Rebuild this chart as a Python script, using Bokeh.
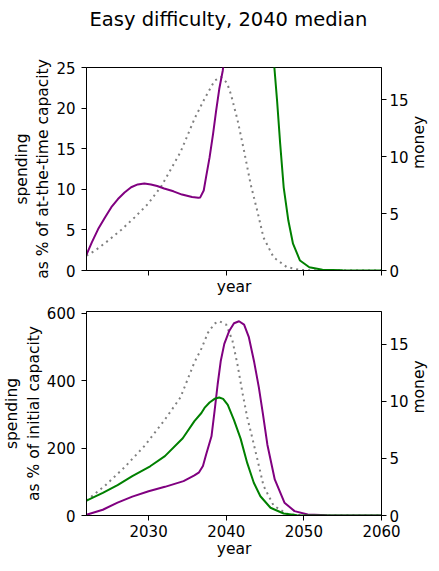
import math
from bokeh.plotting import figure
from bokeh.models import Range1d, LinearAxis, FixedTicker, Label
from bokeh.layouts import column
from bokeh.embed import file_html
from bokeh.resources import INLINE

TITLE = "Easy difficulty, 2040 median"

# ---- top panel: spending as % of at-the-time capacity ----
top_purple_x = [2022.0, 2022.7, 2023.5, 2024.4, 2025.2, 2026.05, 2026.9, 2027.75, 2028.6, 2029.45, 2030.3,
                2031.1, 2032.0, 2033.2, 2034.3, 2035.6, 2036.4, 2036.65, 2037.1, 2037.4, 2037.85, 2038.3,
                2038.7, 2039.1, 2039.55, 2040.0, 2040.5]
top_purple_y = [1.95, 3.5, 5.1, 6.55, 7.8, 8.8, 9.6, 10.25, 10.6, 10.7, 10.6,
                10.4, 10.1, 9.75, 9.35, 9.05, 8.95, 9.0, 9.85, 11.5, 13.9, 16.8,
                19.7, 22.35, 24.6, 28.0, 33.0]

top_green_x = [2045.0, 2045.6, 2046.2, 2046.55, 2046.95, 2047.4, 2048.0, 2048.6, 2049.5, 2050.7, 2052.4, 2055.0, 2060.0]
top_green_y = [60.0, 38.0, 25.0, 20.9, 15.6, 10.25, 6.15, 3.3, 1.23, 0.4, 0.1, 0.02, 0.0]

top_money_x = [2022.0, 2023.1, 2024.8, 2026.5, 2028.2, 2029.9, 2031.6, 2034.1, 2035.95, 2037.2, 2038.5, 2039.3,
               2040.1, 2040.6, 2041.45, 2042.3, 2043.15, 2044.0, 2044.8, 2046.1, 2047.8, 2049.5, 2052.0, 2060.0]
top_money_y = [1.3, 1.75, 2.63, 3.59, 4.67, 5.84, 7.37, 10.4, 13.4, 15.1, 16.7, 17.0,
               16.5, 15.5, 13.25, 10.5, 7.57, 5.24, 2.9, 1.16, 0.3, 0.05, 0.0, 0.0]

# ---- bottom panel: spending as % of initial capacity ----
bot_purple_x = [2022.0, 2024.1, 2026.0, 2027.9, 2030.0, 2032.1, 2034.5, 2035.9, 2036.5, 2037.0, 2037.4,
                2038.1, 2038.5, 2038.9, 2039.3, 2039.75, 2040.4, 2041.0, 2041.65, 2042.3, 2042.9, 2043.6,
                2044.2, 2044.7, 2045.3, 2046.25, 2047.5, 2048.8, 2050.5, 2053.0, 2060.0]
bot_purple_y = [2, 17, 38, 56, 72, 85, 102, 119, 128, 147, 180,
                235, 310, 390, 459, 509, 548, 570, 576, 566, 530, 455,
                380, 305, 210, 107, 38, 13, 3, 0.5, 0]

bot_green_x = [2022.0, 2024.1, 2026.0, 2027.9, 2030.2, 2032.1, 2034.4, 2035.9, 2036.8, 2037.2, 2037.85,
               2038.5, 2039.1, 2039.6, 2040.2, 2041.0, 2041.85, 2042.7, 2043.55, 2044.4, 2045.7,
               2047.4, 2049.1, 2052.0, 2060.0]
bot_green_y = [44, 67, 90, 117, 146, 176, 229, 280, 304, 319, 335,
               346, 350, 346, 328, 283, 228, 156, 97, 57, 23,
               6, 1, 0.1, 0]

bot_money_x = [2022.0, 2024.4, 2026.9, 2029.5, 2032.0, 2034.1, 2035.9, 2036.8, 2037.65, 2038.5, 2039.1,
               2040.0, 2040.8, 2041.45, 2042.1, 2042.7, 2043.35, 2044.0, 2044.8, 2046.1, 2047.8, 2049.5,
               2052.0, 2060.0]
bot_money_y = [1.3, 2.62, 4.22, 6.11, 8.3, 10.33, 13.4, 14.6, 16.0, 16.8, 17.0,
               16.7, 15.3, 13.2, 10.7, 8.6, 6.8, 4.95, 2.6, 0.87, 0.15, 0.02,
               0.0, 0.0]

x_ticks = [2030, 2040, 2050, 2060]
top_left_ticks = [0, 5, 10, 15, 20, 25]
bot_left_ticks = [0, 200, 400, 600]
money_ticks = [0, 5, 10, 15]

X_MIN, X_MAX = 2022, 2060
MONEY_MAX = 17.85

FONT = "DejaVu Sans"
FS = "15px"
LFS = "15.5px"


def style_axis(ax, label_standoff, axis_label_standoff):
    ax.axis_line_color = "black"
    ax.major_tick_line_color = "black"
    ax.major_tick_out = 5
    ax.major_tick_in = 0
    ax.minor_tick_line_color = None
    ax.major_label_text_font = FONT
    ax.major_label_text_font_size = FS
    ax.major_label_text_color = "black"
    ax.major_label_standoff = label_standoff
    ax.axis_label_text_font = FONT
    ax.axis_label_text_font_size = LFS
    ax.axis_label_text_font_style = "normal"
    ax.axis_label_text_color = "black"
    ax.axis_label_standoff = axis_label_standoff


def make_panel(height, top, bottom, ymax, left_ticks, ylabel, show_xlabels):
    p = figure(width=439, height=height, output_backend="svg", toolbar_location=None,
               x_range=Range1d(X_MIN, X_MAX), y_range=Range1d(0, ymax),
               min_border_left=83, min_border_right=55, min_border_top=top, min_border_bottom=bottom)
    p.extra_y_ranges = {"money": Range1d(0, MONEY_MAX)}
    p.outline_line_color = "black"
    p.outline_line_width = 1
    p.xgrid.visible = False
    p.ygrid.visible = False
    p.background_fill_color = "white"
    p.border_fill_color = "white"
    p.xaxis.ticker = FixedTicker(ticks=x_ticks)
    p.yaxis.ticker = FixedTicker(ticks=left_ticks)
    p.xaxis.axis_label = "year"
    p.yaxis.axis_label = ylabel
    style_axis(p.xaxis[0], 4, 0)
    style_axis(p.yaxis[0], 6, 1)
    if not show_xlabels:
        p.xaxis.major_label_overrides = {t: "" for t in x_ticks}
        p.xaxis.major_label_standoff = 0
        p.xaxis.axis_label_standoff = 2
    r_ax = LinearAxis(y_range_name="money", ticker=FixedTicker(ticks=money_ticks))
    style_axis(r_ax, 3, 7)
    r_ax.axis_label = "money"
    try:
        r_ax.axis_label_orientation = math.pi / 2
    except Exception:
        r_ax.axis_label = None
        p.add_layout(Label(x=X_MAX, y=MONEY_MAX / 2, y_range_name="money", x_offset=43,
                           text="money", angle=math.pi / 2, text_align="center",
                           text_baseline="middle", text_font=FONT, text_font_size=LFS,
                           text_color="black"))
    p.add_layout(r_ax, "right")
    return p


# title strip (empty figure carrying only the suptitle); borders match the panels
p0 = figure(width=439, height=40, output_backend="svg", toolbar_location=None,
            x_axis_location=None, y_axis_location=None,
            min_border_left=83, min_border_right=55, min_border_top=0, min_border_bottom=0)
p0.xgrid.visible = False
p0.ygrid.visible = False
p0.outline_line_color = None
p0.background_fill_color = "white"
p0.border_fill_color = "white"
p0.title.text = TITLE
p0.title.text_font = FONT
p0.title.text_font_size = "19.5px"
p0.title.text_font_style = "normal"
p0.title.text_color = "black"
p0.title.align = "left"
p0.title.offset = 3
p0.title.standoff = 11

p1 = make_panel(263, 27, 33, 25, top_left_ticks, "spending\nas % of at-the-time capacity", False)
p1.line(top_money_x, top_money_y, y_range_name="money", color="grey", line_width=2, line_dash="2 4")
p1.line(top_purple_x, top_purple_y, color="purple", line_width=2)
p1.line(top_green_x, top_green_y, color="green", line_width=2)

p2 = make_panel(258, 8, 46, 605, bot_left_ticks, "spending\nas % of initial capacity", True)
p2.line(bot_money_x, bot_money_y, y_range_name="money", color="grey", line_width=2, line_dash="2 4")
p2.line(bot_purple_x, bot_purple_y, color="purple", line_width=2)
p2.line(bot_green_x, bot_green_y, color="green", line_width=2)

layout = column(p0, p1, p2, spacing=0)
open("out.html", "w").write(file_html(layout, INLINE))
